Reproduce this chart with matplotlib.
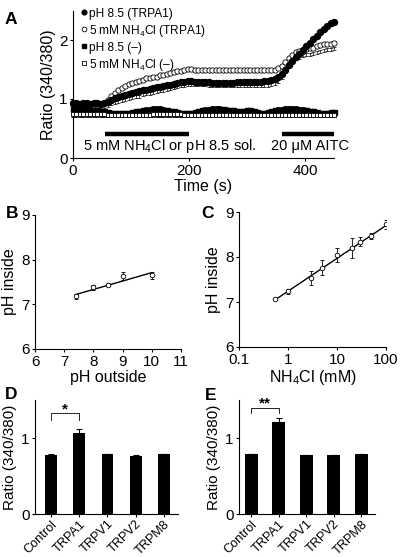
import matplotlib
matplotlib.use('Agg')
import matplotlib.pyplot as plt
from matplotlib.lines import Line2D
import numpy as np

plt.rcParams['font.family'] = ['Liberation Sans', 'DejaVu Sans']
plt.rcParams['mathtext.fontset'] = 'custom'
plt.rcParams['mathtext.rm'] = 'Liberation Sans'
plt.rcParams['mathtext.it'] = 'Liberation Sans:italic'
plt.rcParams['axes.linewidth'] = 0.8
plt.rcParams['xtick.major.width'] = 0.8
plt.rcParams['ytick.major.width'] = 0.8
plt.rcParams['xtick.major.size'] = 2.5
plt.rcParams['ytick.major.size'] = 2.5
plt.rcParams['xtick.major.pad'] = 1.5
plt.rcParams['ytick.major.pad'] = 1.5

# ---- panel A: time course (sampled every 6 s) ----
time_s = np.arange(0, 451, 6)
ph85_trpa1 = [0.93, 0.93, 0.92, 0.93, 0.93, 0.92, 0.93, 0.93, 0.92, 0.93,
              0.95, 0.98, 1.01, 1.03, 1.05, 1.07, 1.09, 1.10, 1.12, 1.13,
              1.15, 1.16, 1.17, 1.19, 1.20, 1.21, 1.22, 1.23, 1.24, 1.26,
              1.27, 1.28, 1.29, 1.30, 1.30, 1.29, 1.29, 1.28, 1.28, 1.28,
              1.27, 1.27, 1.27, 1.27, 1.27, 1.27, 1.27, 1.28, 1.28, 1.28,
              1.28, 1.28, 1.28, 1.29, 1.29, 1.30, 1.31, 1.32, 1.34, 1.37,
              1.42, 1.50, 1.58, 1.65, 1.71, 1.77, 1.83, 1.89, 1.95, 2.01,
              2.07, 2.13, 2.19, 2.24, 2.28, 2.31]
nh4cl_trpa1 = [0.90, 0.90, 0.90, 0.90, 0.90, 0.90, 0.90, 0.90, 0.91, 0.94,
               0.99, 1.05, 1.10, 1.15, 1.19, 1.22, 1.25, 1.27, 1.29, 1.31,
               1.33, 1.35, 1.36, 1.37, 1.38, 1.40, 1.41, 1.42, 1.44, 1.45,
               1.47, 1.48, 1.50, 1.51, 1.51, 1.50, 1.50, 1.50, 1.50, 1.49,
               1.49, 1.49, 1.49, 1.49, 1.49, 1.49, 1.49, 1.49, 1.49, 1.49,
               1.49, 1.49, 1.49, 1.49, 1.49, 1.49, 1.49, 1.49, 1.50, 1.52,
               1.56, 1.63, 1.70, 1.75, 1.79, 1.81, 1.83, 1.85, 1.86, 1.87,
               1.89, 1.91, 1.93, 1.94, 1.94, 1.95]
nh4cl_trpa1_sem = [0.04, 0.04, 0.04, 0.04, 0.04, 0.04, 0.04, 0.04, 0.05, 0.07,
                   0.10, 0.13, 0.16, 0.19, 0.21, 0.23, 0.24, 0.25, 0.25, 0.26,
                   0.26, 0.26, 0.26, 0.26, 0.26, 0.26, 0.26, 0.26, 0.26, 0.26,
                   0.26, 0.26, 0.27, 0.27, 0.27, 0.26, 0.26, 0.26, 0.26, 0.26,
                   0.26, 0.26, 0.26, 0.26, 0.26, 0.26, 0.26, 0.26, 0.26, 0.26,
                   0.26, 0.26, 0.26, 0.26, 0.26, 0.26, 0.26, 0.25, 0.24, 0.22,
                   0.19, 0.16, 0.13, 0.11, 0.10, 0.10, 0.10, 0.10, 0.10, 0.10,
                   0.10, 0.10, 0.10, 0.10, 0.10, 0.10]
ph85_ctrl = [0.83, 0.83, 0.83, 0.83, 0.83, 0.82, 0.82, 0.81, 0.80, 0.79,
             0.78, 0.77, 0.77, 0.76, 0.76, 0.76, 0.77, 0.78, 0.79, 0.80,
             0.81, 0.82, 0.82, 0.83, 0.83, 0.83, 0.82, 0.81, 0.80, 0.79,
             0.78, 0.77, 0.76, 0.76, 0.77, 0.78, 0.80, 0.81, 0.82, 0.82,
             0.83, 0.83, 0.83, 0.83, 0.82, 0.82, 0.81, 0.80, 0.80, 0.80,
             0.81, 0.81, 0.80, 0.78, 0.77, 0.77, 0.78, 0.80, 0.81, 0.82,
             0.82, 0.83, 0.83, 0.83, 0.83, 0.82, 0.82, 0.81, 0.80, 0.79,
             0.78, 0.77, 0.77, 0.77, 0.78, 0.78]
ph85_ctrl_sem = [0.02, 0.02, 0.02, 0.02, 0.02, 0.02, 0.02, 0.02, 0.02, 0.02,
                 0.02, 0.02, 0.01, 0.01, 0.01, 0.01, 0.02, 0.02, 0.03, 0.03,
                 0.04, 0.04, 0.05, 0.05, 0.05, 0.05, 0.04, 0.04, 0.03, 0.02,
                 0.02, 0.01, 0.01, 0.01, 0.02, 0.02, 0.03, 0.04, 0.04, 0.05,
                 0.05, 0.05, 0.05, 0.04, 0.04, 0.03, 0.03, 0.02, 0.02, 0.02,
                 0.03, 0.03, 0.02, 0.02, 0.01, 0.01, 0.02, 0.03, 0.04, 0.04,
                 0.05, 0.05, 0.05, 0.05, 0.05, 0.04, 0.04, 0.03, 0.02, 0.02,
                 0.02, 0.02, 0.01, 0.01, 0.02, 0.02]
nh4cl_ctrl = [0.74, 0.74, 0.74, 0.74, 0.74, 0.74, 0.74, 0.74, 0.74, 0.74,
              0.73, 0.73, 0.73, 0.73, 0.73, 0.73, 0.73, 0.73, 0.73, 0.73,
              0.73, 0.73, 0.73, 0.74, 0.74, 0.74, 0.74, 0.74, 0.74, 0.74,
              0.74, 0.74, 0.73, 0.73, 0.73, 0.73, 0.73, 0.73, 0.73, 0.73,
              0.73, 0.73, 0.73, 0.73, 0.73, 0.73, 0.73, 0.73, 0.73, 0.73,
              0.73, 0.73, 0.73, 0.73, 0.73, 0.73, 0.73, 0.73, 0.73, 0.73,
              0.73, 0.73, 0.73, 0.73, 0.73, 0.73, 0.73, 0.73, 0.73, 0.73,
              0.73, 0.73, 0.73, 0.73, 0.73, 0.73]
ph85_trpa1_sem = 0.035
nh4cl_ctrl_sem = 0.04
legend_labels = ['pH 8.5 (TRPA1)', '5 mM NH$_4$Cl (TRPA1)', 'pH 8.5 (–)', '5 mM NH$_4$Cl (–)']
# application periods (s)
nh4_period = [55, 200]
aitc_period = [360, 450]

# ---- panel B ----
ph_out = [7.4, 8.0, 8.5, 9.0, 10.0]
ph_in_b = [7.18, 7.38, 7.44, 7.64, 7.65]
ph_in_b_sem = [0.05, 0.06, 0.04, 0.09, 0.08]
fit_b_x = [7.4, 10.0]
fit_b_y = [7.22, 7.71]

# ---- panel C ----
nh4cl_mm = [0.55, 1, 3, 5, 10, 20, 30, 50, 100]
ph_in_c = [7.07, 7.24, 7.54, 7.76, 8.05, 8.20, 8.34, 8.46, 8.73]
ph_in_c_sem = [0.02, 0.06, 0.16, 0.17, 0.15, 0.23, 0.10, 0.07, 0.10]
fit_c_x = [0.55, 100]
fit_c_y = [7.05, 8.70]

# ---- panels D and E ----
channels = ['Control', 'TRPA1', 'TRPV1', 'TRPV2', 'TRPM8']
ratio_d = [0.78, 1.065, 0.79, 0.765, 0.79]
ratio_d_sem = [0.01, 0.05, 0.005, 0.005, 0.005]
ratio_e = [0.79, 1.215, 0.77, 0.77, 0.79]
ratio_e_sem = [0.005, 0.045, 0.005, 0.005, 0.005]

W, H = 403, 557
fig = plt.figure(figsize=(W / 100, H / 100), dpi=100)


def box(l, r, t, b):
    return [l / W, 1 - b / H, (r - l) / W, (b - t) / H]


def clean(ax):
    ax.spines['top'].set_visible(False)
    ax.spines['right'].set_visible(False)
    ax.tick_params(labelsize=11, direction='out')


# panel A
axA = fig.add_axes(box(73, 334, 10.5, 158))
clean(axA)
n = len(time_s)
oc = np.array(nh4cl_trpa1)
oc_sem = np.array(nh4cl_trpa1_sem)
# lower SEM of the NH4Cl (TRPA1) trace, shown as a cap comb
axA.errorbar(time_s, oc - oc_sem, yerr=0.025, fmt='none', ecolor='black', elinewidth=0.5,
             capsize=1.6, capthick=0.5, clip_on=False, zorder=2)
axA.plot(time_s, oc, 'o', ms=3.8, mfc='white', mec='black', mew=0.6, clip_on=False, zorder=3)
axA.errorbar(time_s, ph85_trpa1, yerr=ph85_trpa1_sem, fmt='o', ms=4.3, mfc='black', mec='black',
             ecolor='black', elinewidth=0.7, capsize=1.5, capthick=0.6, clip_on=False, zorder=4)
axA.errorbar(time_s, ph85_ctrl, yerr=ph85_ctrl_sem, fmt='s', ms=3.6, mfc='black', mec='black',
             ecolor='black', elinewidth=0.7, capsize=1.5, capthick=0.6, clip_on=False, zorder=5)
axA.errorbar(time_s, nh4cl_ctrl, yerr=[nh4cl_ctrl_sem * np.ones(n), np.zeros(n)],
             fmt='s', ms=3.4, mfc='white', mec='black', mew=0.6, ecolor='black', elinewidth=0.5,
             capsize=1.6, capthick=0.5, clip_on=False, zorder=6)
axA.plot(nh4_period, [0.41, 0.41], color='black', lw=3.2, solid_capstyle='butt')
axA.plot(aitc_period, [0.41, 0.41], color='black', lw=3.2, solid_capstyle='butt', clip_on=False)
axA.text(17, 0.2, '5 mM NH$_4$Cl or pH 8.5 sol.', fontsize=10.5, va='center', ha='left')
axA.text(341, 0.2, '20 μM AITC', fontsize=10.5, va='center', ha='left')
axA.set_xlim(0, 450)
axA.set_ylim(0, 2.5)
axA.set_xticks([0, 200, 400])
axA.set_yticks([0, 1, 2])
axA.set_xlabel('Time (s)', fontsize=11.5, labelpad=1)
axA.set_ylabel('Ratio (340/380)', fontsize=11.5, labelpad=2)
handles = [Line2D([], [], ls='none', marker='o', ms=3.4, mfc='black', mec='black'),
           Line2D([], [], ls='none', marker='o', ms=3.4, mfc='white', mec='black', mew=0.6),
           Line2D([], [], ls='none', marker='s', ms=3.2, mfc='black', mec='black'),
           Line2D([], [], ls='none', marker='s', ms=3.2, mfc='white', mec='black', mew=0.6)]
axA.legend(handles, legend_labels, loc='upper left', bbox_to_anchor=(0.03, 1.02), frameon=False,
           fontsize=8.6, handlelength=0.5, handletextpad=0.15, labelspacing=0.25,
           borderaxespad=0, borderpad=0)

# panel B
axB = fig.add_axes(box(35, 181, 215, 349))
clean(axB)
axB.plot(fit_b_x, fit_b_y, color='black', lw=1)
axB.errorbar(ph_out, ph_in_b, yerr=ph_in_b_sem, fmt='o', ms=3.3, mfc='white', mec='black', mew=0.6,
             ecolor='black', elinewidth=0.6, capsize=1.5, capthick=0.6)
axB.set_xlim(6, 11)
axB.set_ylim(6, 9)
axB.set_xticks([6, 7, 8, 9, 10, 11])
axB.set_yticks([6, 7, 8, 9])
axB.set_xlabel('pH outside', fontsize=11.5, labelpad=1)
axB.set_ylabel('pH inside', fontsize=11.5, labelpad=3)

# panel C
axC = fig.add_axes(box(239, 386, 212, 347))
clean(axC)
axC.set_xscale('log')
axC.plot(fit_c_x, fit_c_y, color='black', lw=1)
axC.errorbar(nh4cl_mm, ph_in_c, yerr=ph_in_c_sem, fmt='o', ms=3.3, mfc='white', mec='black', mew=0.6,
             ecolor='black', elinewidth=0.6, capsize=1.5, capthick=0.6)
axC.set_xlim(0.1, 100)
axC.set_ylim(6, 9)
axC.set_xticks([0.1, 1, 10, 100])
axC.set_xticklabels(['0.1', '1', '10', '100'])
axC.xaxis.set_minor_locator(matplotlib.ticker.NullLocator())
axC.set_yticks([6, 7, 8, 9])
axC.set_xlabel('NH$_4$Cl (mM)', fontsize=11.5, labelpad=1)
axC.set_ylabel('pH inside', fontsize=11.5, labelpad=3)


def bar_panel(ax, vals, sems, width, star, y_br, y_tick, y_star):
    clean(ax)
    x = np.arange(len(channels))
    ax.bar(x, vals, width=width, color='black',
           yerr=[np.zeros(len(vals)), sems], error_kw=dict(ecolor='black', elinewidth=0.8,
                                                         capsize=2, capthick=0.8))
    ax.plot([0, 0, 1, 1], [y_tick, y_br, y_br, y_tick], color='black', lw=0.6)
    ax.text(0.5, y_star, star, ha='center', va='center', fontsize=11, fontweight='bold')
    ax.set_ylim(0, 1.5)
    ax.set_yticks([0, 1])
    ax.set_xticks(x)
    ax.set_xticklabels(channels, rotation=45, ha='right', rotation_mode='anchor', fontsize=9.2)
    ax.tick_params(axis='x', length=2, pad=1)
    ax.set_ylabel('Ratio (340/380)', fontsize=11, labelpad=3)


axD = fig.add_axes(box(35, 178, 400, 514))
bar_panel(axD, ratio_d, ratio_d_sem, 0.42, '*', 1.326, 1.24, 1.37)
axD.set_xlim(-0.57, 4.5)

axE = fig.add_axes(box(239, 375, 400, 514))
bar_panel(axE, ratio_e, ratio_e_sem, 0.47, '**', 1.39, 1.33, 1.45)
axE.set_xlim(-0.44, 4.5)

# panel letters
for lab, x, y in [('A', 5, 12), ('B', 6, 206), ('C', 201, 206), ('D', 5, 387), ('E', 205, 388)]:
    fig.text(x / W, 1 - y / H, lab, fontsize=12.5, fontweight='heavy', ha='left', va='top')

fig.savefig('out.png', dpi=100)
plt.close(fig)
